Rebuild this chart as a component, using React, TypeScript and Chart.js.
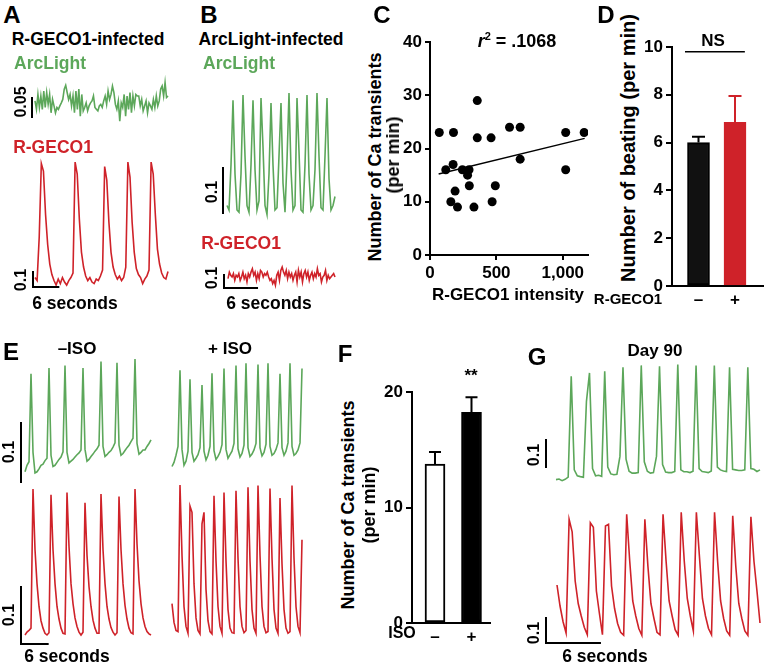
import React, { useEffect, useRef } from 'react';
import { Chart, registerables } from 'chart.js';

Chart.register(...registerables);

const FONT = "'Liberation Sans', Arial, Helvetica, sans-serif";
Chart.defaults.font.family = FONT;
Chart.defaults.color = '#000';

const GREEN = '#5ca75a';
const RED = '#cf2229';

// ---------- Traces (values in ΔF/F × 100, so 10 = 0.1) ----------
// Panel A: R-GECO1-infected
const aArcLight = [0.8,-1.4,2.5,-0.9,2.1,-1.4,3.4,-0.9,3.0,-0.1,2.5,-2.3,1.2,-0.5,-2.3,-0.9,-1.4,-0.5,0.3,1.2,3.9,4.9,3.0,1.2,2.5,-0.5,2.1,-2.3,3.4,-1.4,3.9,-3.2,2.5,-1.8,-0.9,0.3,-1.8,-0.5,0.3,0.8,2.1,-0.9,-1.4,-1.8,-0.5,-0.1,-0.9,0.8,2.1,-0.1,3.4,1.2,2.5,4.7,3.0,-0.1,-1.4,0.8,-4.5,0.3,-0.9,2.5,-3.2,2.1,-1.4,3.0,-2.3,2.1,-0.5,2.5,2.1,2.1,-0.5,1.2,-1.8,-0.5,0.8,-2.3,0.3,-0.5,-1.4,1.2,-0.9,2.1,-0.5,0.8,3.9,4.7,2.1,5.6,1.7,2.1];
const aRGeco = [3,1,30,79,74,45,25,12,5,1,-2,2,-1,3,0,-2,1,3,6,80,72,42,20,10,4,1,3,0,-1,2,1,4,8,77,68,40,20,10,5,2,4,1,3,10,80,70,40,20,9,5,3,-1,2,4,8,80,72,45,22,12,6,3,2,7];
const aSampleSec = 0.5;

// Panel B: ArcLight-infected
const bArcLight = [1,0,10,24.4,8,0,-0.5,8,25.6,12,1,-0.5,10,24.4,9,0,2,24.9,14,1,-1,8,23.8,10,0,0.5,12,23.8,6,-0.5,11,26,9,0,1,24.9,13,0,-0.5,10,25.6,8,0,1,9,26,12,0.5,0,12,24.9,7,0,1,3];
const bRGeco = [-1.3,3.8,1.3,0,2.6,-2.6,1.3,0,2.6,-2.6,0,3.8,-1.3,1.3,-3.8,2.6,0,3.8,6.4,1.3,3.8,-2.6,2.6,-1.3,5.1,3.8,0,2.6,1.3,3.8,0,-2.6,-1.3,-5.1,-2.6,-6.4,1.3,3.8,-2.6,5.1,7.7,3.8,1.3,5.1,-1.3,3.8,0,2.6,-2.6,1.3,3.8,-3.8,5.1,0,3.8,-3.8,2.6,5.1,0,3.8,-2.6,1.3,3.8,-1.3,2.6,0,6.4,1.3,2.6,-3.8,0,1.3,5.1,-2.6,1.3,-1.3,0,1.3,2.6,0];
const bSampleSec = 0.246;

// Panel C: scatter
const cIntensity = [70,177,356,356,460,599,679,679,1022,1161,1022,119,174,244,294,283,296,492,189,157,468,207,331];
const cTransients = [23,23,29,22,22,24,24,18,23,23,16,16,17,16,16,15,13,13,12,10,10,9,9];
const cFitX = [65,1165];
const cFitY = [15.2,21.9];
const cXTicks = [0,500,1000];

// Panel D: bars
const dGroups = ['–','+'];
const dMeans = [6.0,6.85];
const dErrors = [0.25,1.1];
const dNSLevel = 9.8;

// Panel E: ISO
const eArcLightMinus = [-0.3,0.8,1.4,16.3,3,-0.5,-0.3,0.2,0.8,1.0,1.6,2.0,17.3,2.5,0.6,0.8,1.3,1.8,2.2,3.1,17.7,3.0,1.2,1.5,1.8,2.2,2.6,2.9,3.4,17.3,3.5,1.5,1.8,2.3,2.7,3.2,3.6,4.2,18.4,4.0,2.3,2.6,3.0,3.3,3.9,4.6,18.2,4.2,2.5,2.8,3.3,3.8,4.2,4.8,5.4,18.8,4.5,2.7,3.0,3.4,3.4,4.0,4.5,5.1];
const eArcLightPlus = [0.6,1.3,2.5,4.0,16.9,3.5,0.8,1.5,3.2,15.4,3.0,1.5,2.0,2.6,3.8,14.4,3.2,1.7,2.5,4.0,16.4,3.3,1.8,2.3,3.0,4.3,17.2,3.5,2.0,2.6,3.2,4.5,17.7,3.6,2.2,2.8,4.2,18.1,3.8,2.3,2.7,3.4,4.5,17.9,3.8,2.4,3.0,4.4,18.1,4.0,2.5,2.8,3.5,4.6,16.3,3.8,2.5,3.2,4.6,18.1,4.0,2.5,2.8,3.4,4.6,17.2];
const eRGecoMinus = [0,0.5,0.8,1.2,25.6,15,9,5,2.5,1.2,0.3,0,0.4,24.6,15,9,5,2.8,1.2,0.3,0.2,25.0,15.5,9,5.5,3,1.5,0.5,0,0.5,23.2,14,8.5,5,2.6,1.2,0.3,0.3,24.7,15,9,5,2.8,1.3,0.5,0,0.4,24.3,15,9,5.2,2.8,1.2,0.4,0.2,25.6,16,9.5,5.5,3,1.5,0.6,0.2,0];
const eRGecoPlus = [5.5,2.2,0.8,0.6,26.3,14,5,1.5,0.3,22.6,21.5,9,3,0.8,0.2,19.5,21.5,8,2.5,0.6,0.2,24.4,13,5,1.5,0.3,25.0,13,4.5,1.2,0.4,0.3,25.3,13.5,5,1.5,0.4,0.8,25.9,13,4.5,1.2,0.3,26.2,14,5,1.5,0.4,0.6,25.7,13.5,4.5,1.2,0.3,24.0,12.5,4.5,1.2,0.3,0.6,26.2,13.5,5,1.5,0.4,16.7];
const eSampleSec = 0.45;

// Panel F: bars
const fGroups = ['–','+'];
const fMeans = [13.77,18.24];
const fErrors = [1.03,1.3];

// Panel G: Day 90
const gArcLight = [-0.6,-0.4,-1,-0.5,0.3,37.7,3,0.8,0.5,0.3,28.4,38.9,3.5,0.8,1.0,0.6,39.5,4,1.5,1.2,1.4,8,41.0,7,2.5,1.8,1.8,2.0,41.7,6,2.5,1.8,2.0,8,41.4,5,2.2,2.0,2.0,2.4,42.0,3,2.3,2.3,2.0,2.5,41.7,3.5,2.4,2.2,2.0,2.6,41.7,4,3.0,2.6,2.4,41.0,3.2,3.0,2.8,2.8,3.0,41.0,3.5,3.2,2.4,3.0];
const gRGeco = [20.4,12,5.7,1.2,46.7,41.7,22,13,8,3.5,0.5,45.3,43.5,18,9,0.5,44.0,44.7,20,11,5,1.5,0.3,48.7,30,14,8,3,0.3,46.7,28,13,7,1.5,0.5,48.7,30,14,8,2.5,0.3,49.5,30,15,8,2,49.5,32,15,8,3,0.5,49.5,30,14,7,2,0.3,48.1,28,13,7,2,0.3,47.7,30,18,5.2];
const gSampleSec = 0.337;

const SCALE_SECONDS = 6;
const SCALE_DFF = 10;

// ---------- plugins ----------
const scaleBarPlugin = {
  id: 'scaleBar',
  afterDatasetsDraw(chart: any, _a: any, opts: any) {
    if (!opts || (!opts.v && !opts.h)) return;
    const { ctx, chartArea, scales } = chart;
    const xs = scales.x;
    const ys = scales.y;
    const x0 = chartArea.left - (opts.gap || 0);
    const y0 = chartArea.bottom;
    ctx.save();
    ctx.strokeStyle = '#000';
    ctx.lineWidth = 2;
    ctx.lineCap = 'square';
    ctx.beginPath();
    if (opts.v) {
      const len = ys.getPixelForValue(ys.min) - ys.getPixelForValue(ys.min + opts.v);
      ctx.moveTo(x0, y0);
      ctx.lineTo(x0, y0 - len);
    }
    if (opts.h) {
      const len = xs.getPixelForValue(opts.h) - xs.getPixelForValue(0);
      ctx.moveTo(x0, y0);
      ctx.lineTo(x0 + len, y0);
    }
    ctx.stroke();
    ctx.restore();
  },
};

const errorBarPlugin = {
  id: 'errorBars',
  afterDatasetsDraw(chart: any, _a: any, opts: any) {
    if (!opts || !opts.err) return;
    const meta = chart.getDatasetMeta(0);
    const ys = chart.scales.y;
    const { ctx } = chart;
    meta.data.forEach((bar: any, i: number) => {
      const top = ys.getPixelForValue(opts.means[i] + opts.err[i]);
      ctx.save();
      ctx.strokeStyle = opts.colors[i];
      ctx.lineWidth = 2;
      ctx.beginPath();
      ctx.moveTo(bar.x, bar.y);
      ctx.lineTo(bar.x, top);
      ctx.moveTo(bar.x - opts.cap / 2, top);
      ctx.lineTo(bar.x + opts.cap / 2, top);
      ctx.stroke();
      ctx.restore();
    });
  },
};

// ---------- components ----------
type TraceProps = {
  data: number[]; color: string; x: number; y: number; w: number; h: number;
  yMin: number; yMax: number; gap?: number; vBar?: number; hBar?: number;
};

function Trace({ data, color, x, y, w, h, yMin, yMax, gap = 0, vBar, hBar }: TraceProps) {
  const ref = useRef<HTMLCanvasElement>(null);
  const PAD = 22;
  useEffect(() => {
    const chart = new Chart(ref.current as HTMLCanvasElement, {
      type: 'line',
      data: {
        labels: data.map((_, i) => i),
        datasets: [{ data, borderColor: color, borderWidth: 1.6, pointRadius: 0, tension: 0, fill: false, clip: false } as any],
      },
      options: {
        animation: false, responsive: false, events: [],
        layout: { padding: PAD },
        scales: { x: { display: false }, y: { display: false, min: yMin, max: yMax } },
        plugins: { legend: { display: false }, tooltip: { enabled: false }, scaleBar: { gap, v: vBar, h: hBar } } as any,
      },
      plugins: [scaleBarPlugin],
    });
    return () => chart.destroy();
  }, []);
  return <canvas ref={ref} width={w + 2 * PAD} height={h + 2 * PAD} style={{ position: 'absolute', left: x - PAD, top: y - PAD }} />;
}

const tickFont = (size: number) => ({ family: FONT, size, weight: 'bold' as const });

function ScatterC() {
  const ref = useRef<HTMLCanvasElement>(null);
  useEffect(() => {
    const chart = new Chart(ref.current as HTMLCanvasElement, {
      type: 'scatter',
      data: {
        datasets: [
          { type: 'scatter', data: cIntensity.map((v, i) => ({ x: v, y: cTransients[i] })), backgroundColor: '#000', borderColor: '#000', pointRadius: 4.5, borderWidth: 0 } as any,
          { type: 'line', data: cFitX.map((v, i) => ({ x: v, y: cFitY[i] })), borderColor: '#000', borderWidth: 1.5, pointRadius: 0, fill: false } as any,
        ],
      },
      options: {
        animation: false, responsive: false, events: [],
        layout: { padding: { top: 17, right: 17, left: 0, bottom: 0 } },
        scales: {
          x: {
            type: 'linear', min: 0, max: 1190,
            afterBuildTicks: (s: any) => { s.ticks = cXTicks.map((v) => ({ value: v })); },
            afterFit: (s: any) => { s.height = 32; },
            grid: { display: true, drawOnChartArea: false, drawTicks: true, tickLength: 5, color: '#000', lineWidth: 2 },
            border: { display: true, color: '#000', width: 2 },
            ticks: { font: tickFont(17), color: '#000', padding: 3, maxRotation: 0, callback: (v: any) => Number(v).toLocaleString('en-US') },
          },
          y: {
            min: 0, max: 40,
            afterFit: (s: any) => { s.width = 40; },
            grid: { display: true, drawOnChartArea: false, drawTicks: true, tickLength: 5, color: '#000', lineWidth: 2 },
            border: { display: true, color: '#000', width: 2 },
            ticks: { stepSize: 10, font: tickFont(17), color: '#000', padding: 3 },
          },
        },
        plugins: { legend: { display: false }, tooltip: { enabled: false } },
      },
    });
    return () => chart.destroy();
  }, []);
  return <canvas ref={ref} width={215} height={262} style={{ position: 'absolute', left: 390, top: 25 }} />;
}

type BarProps = {
  groups: string[]; means: number[]; errors: number[]; fills: string[]; borders: string[]; errColors: string[];
  yMax: number; step: number; xMin: number; xMax: number; left: number; top: number; width: number; height: number;
  yAxisW: number; xAxisH: number; padTop: number; padRight: number; fontSize: number; barW: number; cap: number;
  ns?: { level: number; from: number; to: number };
};

function BarPanel(p: BarProps) {
  const ref = useRef<HTMLCanvasElement>(null);
  useEffect(() => {
    const datasets: any[] = [
      { type: 'bar', data: p.means.map((m, i) => ({ x: i + 1, y: m })), backgroundColor: p.fills, borderColor: p.borders, borderWidth: 2, barThickness: p.barW, borderSkipped: false },
    ];
    if (p.ns) {
      datasets.push({ type: 'line', data: [{ x: p.ns.from, y: p.ns.level }, { x: p.ns.to, y: p.ns.level }], borderColor: '#000', borderWidth: 1.5, pointRadius: 0, fill: false, clip: false });
    }
    const chart = new Chart(ref.current as HTMLCanvasElement, {
      type: 'bar',
      data: { datasets },
      options: {
        animation: false, responsive: false, events: [],
        layout: { padding: { top: p.padTop, right: p.padRight, left: 0, bottom: 0 } },
        scales: {
          x: {
            type: 'linear', min: p.xMin, max: p.xMax, offset: false,
            afterBuildTicks: (s: any) => { s.ticks = p.groups.map((_, i) => ({ value: i + 1 })); },
            afterFit: (s: any) => { s.height = p.xAxisH; },
            grid: { display: true, drawOnChartArea: false, drawTicks: false, offset: false },
            border: { display: true, color: '#000', width: 2 },
            ticks: { font: tickFont(p.fontSize), color: '#000', padding: 4, maxRotation: 0, callback: (v: any) => p.groups[Number(v) - 1] ?? '' },
          },
          y: {
            min: 0, max: p.yMax,
            afterFit: (s: any) => { s.width = p.yAxisW; },
            grid: { display: true, drawOnChartArea: false, drawTicks: true, tickLength: 6, color: '#000', lineWidth: 2 },
            border: { display: true, color: '#000', width: 2 },
            ticks: { stepSize: p.step, font: tickFont(p.fontSize), color: '#000', padding: 3 },
          },
        },
        plugins: { legend: { display: false }, tooltip: { enabled: false }, errorBars: { err: p.errors, means: p.means, colors: p.errColors, cap: p.cap } } as any,
      },
      plugins: [errorBarPlugin],
    });
    return () => chart.destroy();
  }, []);
  return <canvas ref={ref} width={p.width} height={p.height} style={{ position: 'absolute', left: p.left, top: p.top }} />;
}

function T({ x, y, s, c = '#000', r = false, children }: { x: number; y: number; s: number; c?: string; r?: boolean; children: React.ReactNode }) {
  return (
    <div style={{
      position: 'absolute', left: x, top: y, transform: `translate(-50%,-50%)${r ? ' rotate(-90deg)' : ''}`,
      fontSize: s, color: c, fontWeight: 'bold', whiteSpace: 'nowrap', lineHeight: 1, fontFamily: FONT,
    }}>{children}</div>
  );
}

export default function App() {
  return (
    <div style={{ position: 'absolute', left: 0, top: 0, width: 765, height: 664, overflow: 'hidden', background: '#fff', fontFamily: FONT }}>
      {/* Panel A */}
      <Trace data={aArcLight} color={GREEN} x={35} y={78} w={133} h={39} yMin={-3.4} yMax={6.8} gap={3} vBar={SCALE_DFF / 2} />
      <Trace data={aRGeco} color={RED} x={35} y={158} w={133} h={129} yMin={-3.3} yMax={82.7} gap={2} vBar={SCALE_DFF} hBar={SCALE_SECONDS / aSampleSec} />
      {/* Panel B */}
      <Trace data={bArcLight} color={GREEN} x={227} y={90} w={108} h={123} yMin={-0.67} yMax={26.7} gap={4} vBar={SCALE_DFF} />
      <Trace data={bRGeco} color={RED} x={228} y={266} w={107} h={22} yMin={-8.5} yMax={8.5} gap={4} vBar={SCALE_DFF} hBar={SCALE_SECONDS / bSampleSec} />
      {/* Panel C */}
      <ScatterC />
      {/* Panel D */}
      <BarPanel groups={dGroups} means={dMeans} errors={dErrors} fills={['#111111', RED]} borders={['#000000', RED]} errColors={['#000000', RED]}
        yMax={10} step={2} xMin={0.274} xMax={2.767} left={640} top={30} width={125} height={285} yAxisW={32} xAxisH={29}
        padTop={17} padRight={2} fontSize={17} barW={22} cap={13} ns={{ level: dNSLevel, from: 0.63, to: 2.27 }} />
      {/* Panel E */}
      <Trace data={eArcLightMinus} color={GREEN} x={25} y={355} w={126} h={127} yMin={-2.03} yMax={19.5} gap={4} vBar={SCALE_DFF} />
      <Trace data={eArcLightPlus} color={GREEN} x={172} y={355} w={130} h={127} yMin={-2.03} yMax={19.5} />
      <Trace data={eRGecoMinus} color={RED} x={25} y={485} w={126} h={159} yMin={-1.58} yMax={26.3} gap={4} vBar={SCALE_DFF} hBar={SCALE_SECONDS / eSampleSec} />
      <Trace data={eRGecoPlus} color={RED} x={172} y={485} w={130} h={159} yMin={-1.58} yMax={26.3} />
      {/* Panel F */}
      <BarPanel groups={fGroups} means={fMeans} errors={fErrors} fills={['#ffffff', '#000000']} borders={['#000000', '#000000']} errColors={['#000000', '#000000']}
        yMax={20} step={10} xMin={0.37} xMax={2.507} left={380} top={375} width={120} height={270} yAxisW={32} xAxisH={22}
        padTop={17} padRight={10} fontSize={17} barW={20} cap={12} />
      {/* Panel G */}
      <Trace data={gArcLight} color={GREEN} x={556} y={360} w={204} h={107} yMin={4.07} yMax={43.7} gap={10} vBar={SCALE_DFF} />
      <Trace data={gRGeco} color={RED} x={557} y={510} w={203} h={133} yMin={-2.8} yMax={50.4} gap={11} vBar={SCALE_DFF} hBar={SCALE_SECONDS / gSampleSec} />

      {/* Panel letters */}
      <T x={12} y={15} s={24}>A</T>
      <T x={209} y={15} s={24}>B</T>
      <T x={382} y={15} s={24}>C</T>
      <T x={606} y={15} s={24}>D</T>
      <T x={11} y={352} s={24}>E</T>
      <T x={345} y={354} s={24}>F</T>
      <T x={537} y={357} s={24}>G</T>

      {/* A texts */}
      <T x={88} y={40} s={17.5}>R-GECO1-infected</T>
      <T x={50} y={64} s={17.5} c={GREEN}>ArcLight</T>
      <T x={53} y={148} s={17.5} c={RED}>R-GECO1</T>
      <T x={21} y={102} s={16} r>0.05</T>
      <T x={21} y={280} s={16} r>0.1</T>
      <T x={75} y={304} s={17.5}>6 seconds</T>

      {/* B texts */}
      <T x={271} y={40} s={17.5}>ArcLight-infected</T>
      <T x={239} y={64} s={17.5} c={GREEN}>ArcLight</T>
      <T x={241} y={244} s={17.5} c={RED}>R-GECO1</T>
      <T x={212} y={192} s={16} r>0.1</T>
      <T x={212} y={278} s={16} r>0.1</T>
      <T x={269} y={304} s={17.5}>6 seconds</T>

      {/* C texts */}
      <T x={517} y={41} s={18}><i>r</i><sup style={{ fontSize: 11, verticalAlign: 'top', position: 'relative', top: -1 }}>2</sup> = .1068</T>
      <T x={375} y={157} s={18} r>Number of Ca transients</T>
      <T x={393} y={155} s={18} r>(per min)</T>
      <T x={508} y={294} s={17}>R-GECO1 intensity</T>

      {/* D texts */}
      <T x={628} y={148} s={20} r>Number of beating (per min)</T>
      <T x={713} y={40} s={17}>NS</T>
      <T x={628} y={298} s={15}>R-GECO1</T>

      {/* E texts */}
      <T x={77} y={348} s={17}>–ISO</T>
      <T x={230} y={348} s={17}>+ ISO</T>
      <T x={9} y={452} s={16} r>0.1</T>
      <T x={9} y={615} s={16} r>0.1</T>
      <T x={67} y={657} s={17.5}>6 seconds</T>

      {/* F texts */}
      <T x={348} y={505} s={18} r>Number of Ca transients</T>
      <T x={369} y={505} s={18} r>(per min)</T>
      <T x={471} y={375} s={17}>**</T>
      <T x={402} y={633} s={16}>ISO</T>

      {/* G texts */}
      <T x={655} y={350} s={17}>Day 90</T>
      <T x={534} y={455} s={16} r>0.1</T>
      <T x={534} y={633} s={16} r>0.1</T>
      <T x={605} y={657} s={17.5}>6 seconds</T>
    </div>
  );
}
